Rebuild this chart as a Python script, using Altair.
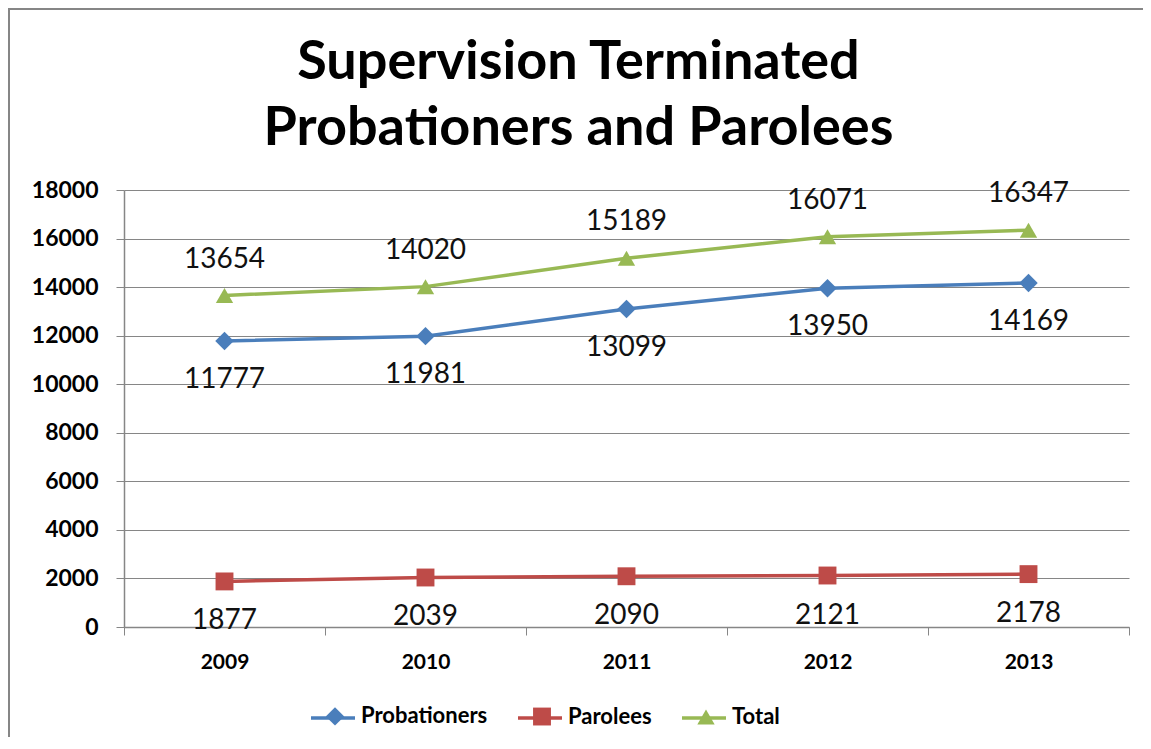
import altair as alt
import pandas as pd

years = ["2009", "2010", "2011", "2012", "2013"]
probationers = [11777, 11981, 13099, 13950, 14169]
parolees = [1877, 2039, 2090, 2121, 2178]
total = [13654, 14020, 15189, 16071, 16347]
series_names = ["Probationers", "Parolees", "Total"]
series_colors = ["#4A7EBB", "#BE4B48", "#98B954"]
marker_shapes = ["diamond", "square", "triangle-up"]
marker_sizes = [340, 300, 420]
y_ticks = [0, 2000, 4000, 6000, 8000, 10000, 12000, 14000, 16000, 18000]

rows = []
for name, vals in zip(series_names, [probationers, parolees, total]):
    for yr, v in zip(years, vals):
        rows.append({"year": yr, "series": name, "value": v})
df = pd.DataFrame(rows)

FONT = "Lato"
GRAY = "#868686"

x_enc = alt.X(
    "year:N",
    sort=years,
    scale=alt.Scale(type="band", paddingInner=0, paddingOuter=0),
    axis=alt.Axis(
        title=None, labelAngle=0, tickBand="extent", tickSize=8,
        tickColor=GRAY, domainColor=GRAY, domainWidth=1.5,
        labelFont=FONT, labelFontWeight="bold", labelFontSize=21,
        labelColor="#000", labelPadding=16, grid=False,
    ),
)
y_enc = alt.Y(
    "value:Q",
    scale=alt.Scale(domain=[0, 18000], nice=False),
    axis=alt.Axis(
        title=None, values=y_ticks, format="d", tickSize=8,
        tickColor=GRAY, domainColor=GRAY, domainWidth=1.5,
        gridColor=GRAY, gridWidth=1, grid=True,
        labelFont=FONT, labelFontWeight="bold", labelFontSize=23,
        labelColor="#000", labelPadding=18,
    ),
)

base = alt.Chart(df)

frame = alt.Chart(alt.Data(values=[{}])).mark_rect(
    fillOpacity=0, stroke=GRAY, strokeWidth=2
).encode(
    x=alt.value(-115), x2=alt.value(1300),
    y=alt.value(-181), y2=alt.value(800),
)

# Line layer: its legend draws the line segments of the legend glyphs
lines = base.mark_line(strokeWidth=3.5).encode(
    x=x_enc, y=y_enc,
    stroke=alt.Stroke(
        "series:N",
        scale=alt.Scale(domain=series_names[::-1], range=series_colors[::-1]),
        legend=alt.Legend(
            title=None, values=series_names, symbolType="stroke",
            symbolSize=1936, symbolStrokeWidth=3.5,
            legendX=185, legendY=504, labelOffset=0, columnPadding=27,
            labelOpacity=0,
        ),
    ),
)

# Marker layer: its legend draws the markers on top of the segments
points = base.mark_point(filled=True, opacity=1).encode(
    x=x_enc, y=y_enc,
    color=alt.Color(
        "series:N", scale=alt.Scale(domain=series_names, range=series_colors),
        legend=alt.Legend(title=None, legendX=200, legendY=515, labelOffset=15,
                          columnPadding=42, symbolSize=200),
    ),
    shape=alt.Shape(
        "series:N", scale=alt.Scale(domain=series_names, range=marker_shapes),
        legend=alt.Legend(title=None, legendX=200, legendY=515, labelOffset=15,
                          columnPadding=42, symbolSize=200),
    ),
    size=alt.Size("series:N", scale=alt.Scale(domain=series_names, range=marker_sizes), legend=None),
)

label_offsets = {"Probationers": 39, "Parolees": 40, "Total": -36}
text_layers = []
for name in series_names:
    text_layers.append(
        base.transform_filter(alt.datum.series == name).mark_text(
            font=FONT, fontSize=28, color="#111", baseline="middle",
            align="center", dy=label_offsets[name],
        ).encode(x=x_enc, y=y_enc, text=alt.Text("value:Q", format="d"))
    )

chart = alt.layer(frame, lines, points, *text_layers).properties(
    width=1005,
    height=437,
    padding={"left": 116, "top": 182, "right": 14, "bottom": 110},
    autosize=alt.AutoSizeParams(type="none"),
    background="white",
    title=alt.Title(
        ["Supervision Terminated", "Probationers and Parolees"],
        fontSize=54, font=FONT, fontWeight="bold", anchor="middle",
        offset=34, baseline="bottom", lineHeight=66, dx=-48, dy=236, color="#000",
    ),
).configure_view(stroke=None).configure_legend(
    orient="none", direction="horizontal",
    labelFont=FONT, labelFontWeight="bold", labelFontSize=22, labelColor="#000",
    padding=0, symbolOpacity=1,
)

chart.save("out.html", embed_options={"renderer": "svg", "actions": False})
